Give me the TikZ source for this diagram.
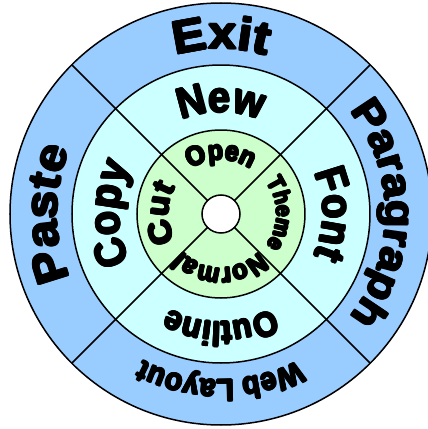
\documentclass[tikz,border=0pt]{standalone}
\usepackage{fontspec}
\usetikzlibrary{decorations.text}
\newfontfamily\wideblack[FakeStretch=1.1]{Liberation Sans Bold}
\newfontfamily\slimblack[FakeStretch=0.92]{Liberation Sans Bold}
\definecolor{outerblue}{HTML}{99CCFF}
\definecolor{middlecyan}{HTML}{CCFFFF}
\definecolor{innergreen}{HTML}{CCFFCC}

\begin{document}
\begin{tikzpicture}[x=1pt,y=1pt,
    ring/.style={draw=black,line width=1.5pt},
    divider/.style={line width=1.5pt},
    menutext/.style={decorate,decoration={text along path,text align=center,text={#1}}}]
    \useasboundingbox (-221,-215) rectangle (207,214);
    \clip (-221,-215) rectangle (207,214);

    % Rings
    \filldraw[ring,fill=outerblue] (0,0) circle (211pt);
    \filldraw[ring,fill=middlecyan] (0,0) circle (149pt);
    \filldraw[ring,fill=innergreen] (0,0) circle (84pt);

    % Dividers
    \foreach \a in {45,135,225,315}
        \draw[divider] (\a:19) -- (\a:211);

    % Hub
    \filldraw[ring,fill=white] (0,0) circle (19pt);

    % Labels, set a few times with small shifts to thicken the strokes
    \foreach \dx/\dy in {0/0,1/0,-1/0,0/1,0/-1,0.7/0.7,-0.7/0.7,0.7/-0.7,-0.7/-0.7} {
    \begin{scope}[shift={(\dx,\dy)}]
    % Outer ring
    \path[menutext={|\wideblack\fontsize{46}{46}\selectfont|Exit}] (170:165) arc[start angle=170,end angle=10,radius=165pt];
    \path[menutext={|\wideblack\fontsize{41}{41}\selectfont|Paragraph}] (80:165) arc[start angle=80,end angle=-80,radius=165pt];
    \path[menutext={|\slimblack\fontsize{31}{31}\selectfont|Web Layout}] (-10:166) arc[start angle=-10,end angle=-170,radius=166pt];
    \path[menutext={|\wideblack\fontsize{45}{45}\selectfont|Paste}] (260:164) arc[start angle=260,end angle=100,radius=164pt];
    % Middle ring
    \path[menutext={|\slimblack\fontsize{43}{43}\selectfont|New}] (170:102) arc[start angle=170,end angle=10,radius=102pt];
    \path[menutext={|\slimblack\fontsize{43}{43}\selectfont|Font}] (80:102) arc[start angle=80,end angle=-80,radius=102pt];
    \path[menutext={|\slimblack\fontsize{34}{34}\selectfont|Outline}] (-10:108) arc[start angle=-10,end angle=-170,radius=108pt];
    \path[menutext={|\slimblack\fontsize{43}{43}\selectfont|Copy}] (260:102) arc[start angle=260,end angle=100,radius=102pt];
    % Inner ring
    \path[menutext={|\slimblack\fontsize{27}{27}\selectfont|Open}] (170:54) arc[start angle=170,end angle=10,radius=54pt];
    \path[menutext={|\slimblack\fontsize{23}{23}\selectfont|Theme}] (80:55.5) arc[start angle=80,end angle=-80,radius=55.5pt];
    \path[menutext={|\slimblack\fontsize{27}{27}\selectfont|Normal}] (-10:54) arc[start angle=-10,end angle=-170,radius=54pt];
    \path[menutext={|\wideblack\fontsize{31}{31}\selectfont|Cut}] (260:52.5) arc[start angle=260,end angle=100,radius=52.5pt];
    \end{scope}
    }
\end{tikzpicture}
\end{document}
